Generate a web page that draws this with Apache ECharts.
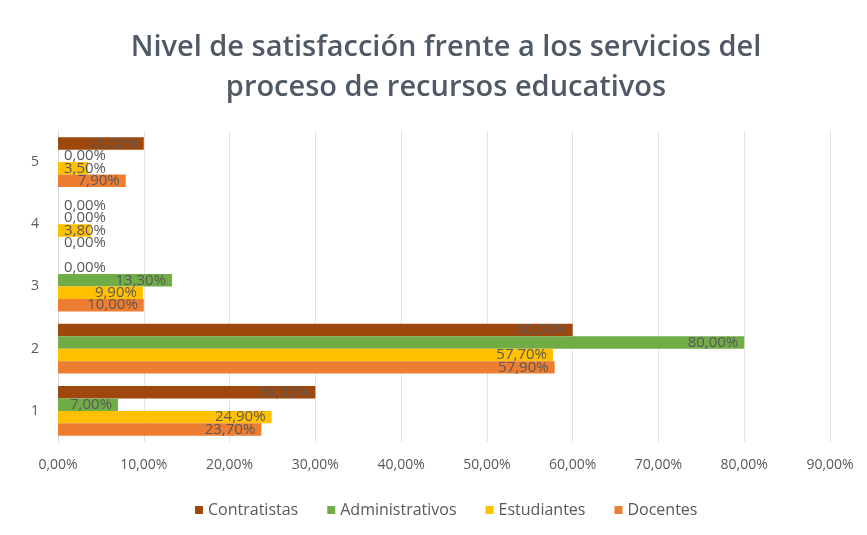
<!DOCTYPE html>
<html>
<head>
<meta charset="utf-8">
<script src="https://cdn.jsdelivr.net/npm/echarts@6/dist/echarts.min.js"></script>
<style>
  html, body { margin: 0; padding: 0; background: #fff; }
  #chart { width: 867px; height: 535px; }
</style>
</head>
<body>
<div id="chart"></div>
<script>
// niveles de satisfacción (eje Y, de abajo hacia arriba)
const categories = ['1', '2', '3', '4', '5'];
// porcentajes por grupo
const docentes = [23.7, 57.9, 10.0, 0.0, 7.9];
const estudiantes = [24.9, 57.7, 9.9, 3.8, 3.5];
const administrativos = [7.0, 80.0, 13.3, 0.0, 0.0];
const contratistas = [30.0, 60.0, 0.0, 0.0, 10.0];
const xTicks = [0, 10, 20, 30, 40, 50, 60, 70, 80, 90];

const fmt = v => v.toFixed(2).replace('.', ',') + '%';

// barras muy cortas: la etiqueta arranca en el eje, como en Excel
function withLabels(values) {
  return values.map(v => ({
    value: v,
    label: { position: v < 7 ? 'insideLeft' : 'insideRight' }
  }));
}

function makeSeries(name, values, color) {
  return {
    name: name,
    type: 'bar',
    barGap: '0%',
    barCategoryGap: '20%',
    itemStyle: { color: color },
    label: {
      show: true,
      formatter: p => fmt(p.value),
      color: '#595959',
      fontSize: 15,
      fontFamily: 'Open Sans',
      distance: 6
    },
    data: withLabels(values)
  };
}

const chart = echarts.init(document.getElementById('chart'));
chart.setOption({
  animation: false,
  title: {
    text: 'Nivel de satisfacción frente a los servicios del\nproceso de recursos educativos',
    left: 441,
    textAlign: 'center',
    top: 23,
    textStyle: {
      color: '#505a66',
      fontSize: 29,
      fontWeight: 600,
      fontFamily: 'Open Sans',
      lineHeight: 40
    }
  },
  legend: {
    bottom: 12,
    left: 190,
    itemWidth: 8,
    itemHeight: 8,
    itemGap: 29,
    icon: 'rect',
    data: ['Contratistas', 'Administrativos', 'Estudiantes', 'Docentes'],
    textStyle: { color: '#595959', fontSize: 16, fontFamily: 'Open Sans' }
  },
  grid: {
    left: 58,
    right: 37,
    top: 131,
    bottom: 93
  },
  xAxis: {
    type: 'value',
    min: xTicks[0],
    max: xTicks[xTicks.length - 1],
    interval: xTicks[1] - xTicks[0],
    axisLabel: {
      formatter: v => fmt(v),
      color: '#595959',
      fontSize: 14,
      fontFamily: 'Open Sans',
      margin: 16
    },
    axisLine: { show: false },
    axisTick: { show: false },
    splitLine: { lineStyle: { color: '#e3e3e3' } }
  },
  yAxis: {
    type: 'category',
    data: categories,
    axisLine: { lineStyle: { color: '#d9d9d9' } },
    axisTick: { show: false },
    axisLabel: { color: '#595959', fontSize: 14, fontFamily: 'Open Sans', margin: 19 }
  },
  // en barras horizontales la primera serie queda arriba del grupo
  series: [
    makeSeries('Contratistas', contratistas, '#9E480E'),
    makeSeries('Administrativos', administrativos, '#70AD47'),
    makeSeries('Estudiantes', estudiantes, '#FFC000'),
    makeSeries('Docentes', docentes, '#ED7D31')
  ]
});
</script>
</body>
</html>
